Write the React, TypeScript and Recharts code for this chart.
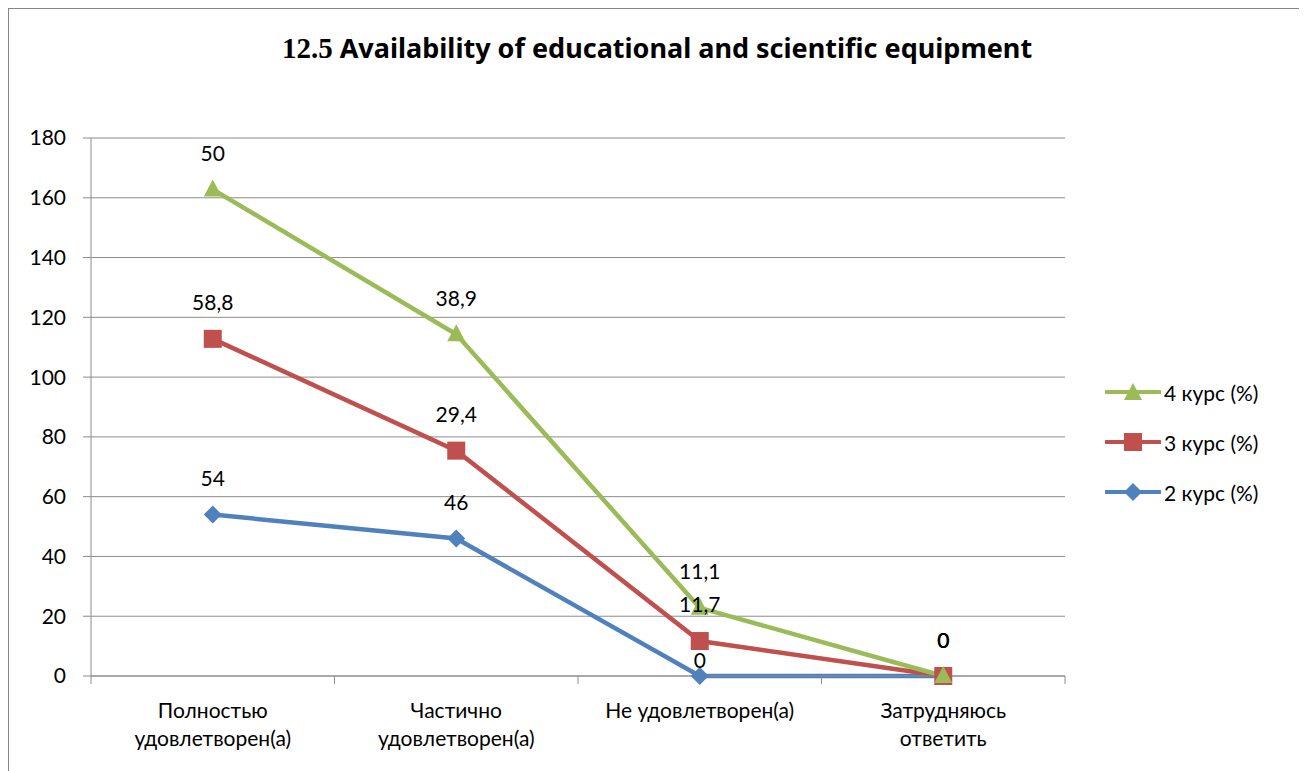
import React from "react";
import { LineChart, Line, XAxis, YAxis, CartesianGrid, LabelList } from "recharts";

const categories = [
  "Полностью удовлетворен(а)",
  "Частично удовлетворен(а)",
  "Не удовлетворен(а)",
  "Затрудняюсь ответить",
];
const categoryLines = [
  ["Полностью", "удовлетворен(а)"],
  ["Частично", "удовлетворен(а)"],
  ["Не удовлетворен(а)"],
  ["Затрудняюсь", "ответить"],
];

// raw values shown in the labels
const kurs2 = [54, 46, 0, 0];
const kurs3 = [58.8, 29.4, 11.7, 0];
const kurs4 = [50, 38.9, 11.1, 0];

const yTicks = [0, 20, 40, 60, 80, 100, 120, 140, 160, 180];

const GREEN = "#9bbb59";
const RED = "#c0504d";
const BLUE = "#4f81bd";
const GRID = "#8c8c8c";
const FONT = "Lato, Roboto, sans-serif";
const FS = 21;

// stacked line: each series sits on the ones below it
const data = categories.map((cat, i) => ({
  cat,
  s2: kurs2[i],
  s3: kurs2[i] + kurs3[i],
  s4: kurs2[i] + kurs3[i] + kurs4[i],
}));

const W = 1290;
const H = 770;
const PLOT_LEFT = 82;
const PLOT_RIGHT = 1056;
const PLOT_TOP = 129;
const PLOT_BOTTOM = 667;
const HALF = (PLOT_RIGHT - PLOT_LEFT) / categories.length / 2;

const fmt = (v: number) => String(v).replace(".", ",");

function makeLabel(raw: number[], nudge: Record<number, number> = {}) {
  return (props: any) => {
    const { x, y, index } = props;
    const lift = nudge[index] ?? 37;
    return (
      <text
        x={x}
        y={y - lift}
        textAnchor="middle"
        dominantBaseline="central"
        fontSize={FS}
        fontFamily={FONT}
        fill="#000"
      >
        {fmt(raw[index])}
      </text>
    );
  };
}

const Triangle = (props: any) => {
  const { cx, cy } = props;
  if (cx == null || cy == null) return null;
  return <path d={`M${cx},${cy - 10} L${cx + 9},${cy + 7} L${cx - 9},${cy + 7} Z`} fill={GREEN} />;
};
const Square = (props: any) => {
  const { cx, cy } = props;
  if (cx == null || cy == null) return null;
  return <rect x={cx - 9} y={cy - 9} width={18} height={18} fill={RED} />;
};
const Diamond = (props: any) => {
  const { cx, cy } = props;
  if (cx == null || cy == null) return null;
  return <path d={`M${cx},${cy - 9} L${cx + 9},${cy} L${cx},${cy + 9} L${cx - 9},${cy} Z`} fill={BLUE} />;
};

const CategoryTick = (props: any) => {
  const { x, y, payload, index } = props;
  const i = payload?.index ?? index;
  const lines = categoryLines[i] || [payload.value];
  const last = i === categories.length - 1;
  return (
    <g>
      <line x1={x - HALF} y1={y} x2={x - HALF} y2={y + 8} stroke={GRID} />
      {last && <line x1={x + HALF} y1={y} x2={x + HALF} y2={y + 8} stroke={GRID} />}
      {lines.map((t: string, k: number) => (
        <text
          key={k}
          x={x}
          y={y + 42 + k * 28}
          textAnchor="middle"
          fontSize={FS}
          fontFamily={FONT}
          fill="#000"
        >
          {t}
        </text>
      ))}
    </g>
  );
};

const legendItems = [
  { name: "4 курс (%)", color: GREEN, shape: "tri" },
  { name: "3 курс (%)", color: RED, shape: "sq" },
  { name: "2 курс (%)", color: BLUE, shape: "dia" },
];

function LegendIcon({ color, shape }: { color: string; shape: string }) {
  return (
    <svg width={56} height={20} style={{ display: "block" }}>
      <line x1={1} y1={10} x2={55} y2={10} stroke={color} strokeWidth={4} strokeLinecap="round" />
      {shape === "tri" && <path d="M28,1 L37,18 L19,18 Z" fill={color} />}
      {shape === "sq" && <rect x={19} y={1} width={18} height={18} fill={color} />}
      {shape === "dia" && <path d="M28,1 L37,10 L28,19 L19,10 Z" fill={color} />}
    </svg>
  );
}

export default function App() {
  return (
    <div
      style={{
        position: "relative",
        width: W,
        height: H,
        border: "1px solid #868686",
        background: "#fff",
        fontFamily: FONT,
      }}
    >
      <div
        style={{
          position: "absolute",
          top: 22,
          left: 0,
          width: 1296,
          textAlign: "center",
          fontSize: 27,
          fontWeight: 700,
          color: "#000",
          lineHeight: "34px",
          fontFamily: "'Noto Sans', sans-serif",
        }}
      >
        <span style={{ fontFamily: "'Liberation Serif', serif", fontSize: 29 }}>12.5</span> Availability of
        educational and scientific equipment
      </div>

      <LineChart
        width={W}
        height={H}
        data={data}
        margin={{ top: PLOT_TOP, right: W - PLOT_RIGHT, left: 0, bottom: H - PLOT_BOTTOM - 90 }}
      >
        <CartesianGrid vertical={false} stroke={GRID} strokeWidth={1} />
        <XAxis
          dataKey="cat"
          height={90}
          padding={{ left: HALF, right: HALF }}
          axisLine={{ stroke: GRID }}
          tickLine={false}
          tickSize={0}
          tickMargin={0}
          interval={0}
          tick={<CategoryTick />}
        />
        <YAxis
          width={PLOT_LEFT}
          domain={[0, 180]}
          ticks={yTicks}
          interval={0}
          axisLine={{ stroke: GRID }}
          tickLine={{ stroke: GRID }}
          tickSize={8}
          tickMargin={17}
          tick={{ fontSize: FS, fill: "#000", fontFamily: FONT }}
        />
        <Line
          dataKey="s2"
          stroke={BLUE}
          strokeWidth={4.5}
          dot={<Diamond />}
          activeDot={false}
          isAnimationActive={false}
        >
          <LabelList dataKey="s2" content={makeLabel(kurs2, { 2: 17 })} />
        </Line>
        <Line
          dataKey="s3"
          stroke={RED}
          strokeWidth={4.5}
          dot={<Square />}
          activeDot={false}
          isAnimationActive={false}
        >
          <LabelList dataKey="s3" content={makeLabel(kurs3, { 2: 38 })} />
        </Line>
        <Line
          dataKey="s4"
          stroke={GREEN}
          strokeWidth={4.5}
          dot={<Triangle />}
          activeDot={false}
          isAnimationActive={false}
        >
          <LabelList dataKey="s4" content={makeLabel(kurs4)} />
        </Line>
      </LineChart>

      <div style={{ position: "absolute", left: 1096, top: 358 }}>
        {legendItems.map((it) => (
          <div key={it.name} style={{ display: "flex", alignItems: "center", height: 50 }}>
            <LegendIcon color={it.color} shape={it.shape} />
            <span style={{ fontSize: FS, marginLeft: 3, color: "#000" }}>{it.name}</span>
          </div>
        ))}
      </div>
    </div>
  );
}
